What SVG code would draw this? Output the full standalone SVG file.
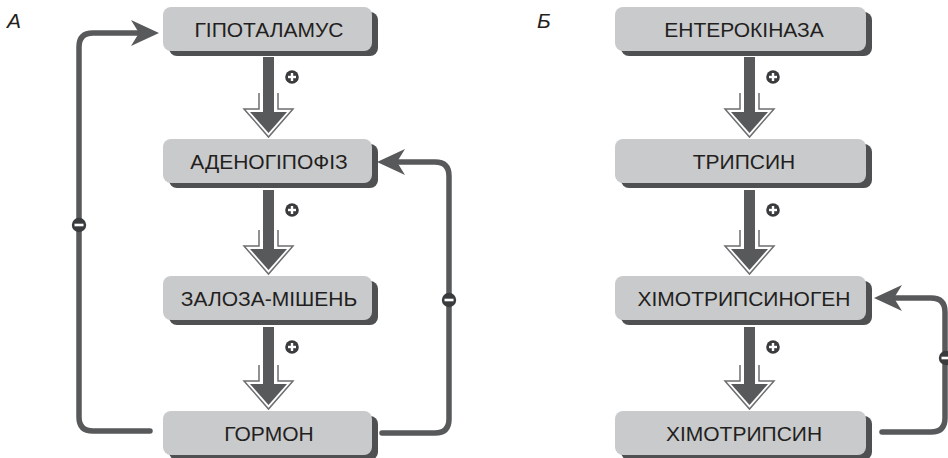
<svg xmlns="http://www.w3.org/2000/svg" width="948" height="458" viewBox="0 0 948 458">
<style>
.bx{fill:#c9cacc}
.sh{fill:#4f5052}
.tx{font-family:"Liberation Sans",Arial,sans-serif;font-size:21px;fill:#231f20;text-anchor:middle}
.lb{font-family:"Liberation Sans",Arial,sans-serif;font-size:21px;font-style:italic;fill:#231f20}
.fb{fill:none;stroke:#58595b;stroke-width:5.5;stroke-linecap:round;stroke-linejoin:round}
.ol{fill:#fff;stroke:#6d6e70;stroke-width:1.5}
.dk{fill:#58595b}
.sg{fill:#3a3b3d}
.bar{fill:#fff}
</style>
<defs>
<marker id="ah" markerUnits="userSpaceOnUse" viewBox="0 0 28 26" refX="8" refY="13" markerWidth="28" markerHeight="26" orient="auto">
<path d="M0,0 L28,13 L0,26 L8,13 Z" fill="#58595b"/>
</marker>
<g id="plus"><circle r="6.8" class="sg"/><rect x="-4" y="-1.2" width="8" height="2.4" class="bar"/><rect x="-1.2" y="-4" width="2.4" height="8" class="bar"/></g>
<g id="minus"><circle r="7.2" fill="#3a3b3d"/><circle r="5.3" fill="#fff" opacity="0"/><rect x="-4.5" y="-1.3" width="9" height="2.6" class="bar"/></g>
</defs>

<text class="lb" x="7" y="28">А</text>
<text class="lb" x="537" y="28">Б</text>

<g id="connectors">
<!-- A left feedback -->
<path class="fb" d="M150,431 L93,431 Q79,431 79,417 L79,47 Q79,33 93,33 L139,33" marker-end="url(#ah)"/>
<!-- A right feedback -->
<path class="fb" d="M382,433 L435,433 Q449,433 449,419 L449,176 Q449,162 435,162 L397,162" marker-end="url(#ah)"/>
<!-- B right feedback -->
<path class="fb" d="M882,432 L931,432 Q945,432 945,418 L945,312 Q945,298 931,298 L894,298" marker-end="url(#ah)"/>
<use href="#minus" x="79" y="225"/>
<use href="#minus" x="449" y="300"/>
<use href="#minus" x="946" y="358"/>

<!-- activation arrows A -->
<g id="arrA1">
<polyline class="ol" points="259,93 259,109 244,109 268.5,137 293,109 278,109 278,93"/>
<rect class="dk" x="263" y="57" width="11" height="56"/>
<polygon class="dk" points="250,112 268.5,133 287,112"/>
<use href="#plus" x="292" y="77"/>
</g>
<g id="arrA2">
<polyline class="ol" points="259,230 259,246 244,246 268.5,274 293,246 278,246 278,230"/>
<rect class="dk" x="263" y="190" width="11" height="60"/>
<polygon class="dk" points="250,249 268.5,270 287,249"/>
<use href="#plus" x="292" y="210"/>
</g>
<g id="arrA3">
<polyline class="ol" points="259,365 259,381 244,381 268.5,409 293,381 278,381 278,365"/>
<rect class="dk" x="263" y="327" width="11" height="58"/>
<polygon class="dk" points="250,384 268.5,405 287,384"/>
<use href="#plus" x="292" y="347"/>
</g>
<!-- activation arrows B -->
<g id="arrB1">
<polyline class="ol" points="740,93 740,109 725,109 749.5,137 774,109 759,109 759,93"/>
<rect class="dk" x="744" y="57" width="11" height="56"/>
<polygon class="dk" points="731,112 749.5,133 768,112"/>
<use href="#plus" x="773" y="77"/>
</g>
<g id="arrB2">
<polyline class="ol" points="740,230 740,246 725,246 749.5,274 774,246 759,246 759,230"/>
<rect class="dk" x="744" y="190" width="11" height="60"/>
<polygon class="dk" points="731,249 749.5,270 768,249"/>
<use href="#plus" x="773" y="210"/>
</g>
<g id="arrB3">
<polyline class="ol" points="740,365 740,381 725,381 749.5,409 774,381 759,381 759,365"/>
<rect class="dk" x="744" y="327" width="11" height="58"/>
<polygon class="dk" points="731,384 749.5,405 768,384"/>
<use href="#plus" x="773" y="347"/>
</g>
</g>

<!-- Panel A nodes -->
<g id="hypothalamus">
<rect class="sh" x="169" y="12" width="209" height="44" rx="8"/>
<rect class="bx" x="163" y="7" width="209" height="44" rx="8"/>
<text class="tx" x="269" y="37">ГІПОТАЛАМУС</text>
</g>
<g id="adenohypophysis">
<rect class="sh" x="169" y="144" width="209" height="44" rx="8"/>
<rect class="bx" x="163" y="139" width="209" height="44" rx="8"/>
<text class="tx" x="269" y="169">АДЕНОГІПОФІЗ</text>
</g>
<g id="target-gland">
<rect class="sh" x="169" y="281" width="209" height="44" rx="8"/>
<rect class="bx" x="163" y="276" width="209" height="44" rx="8"/>
<text class="tx" x="269" y="306">ЗАЛОЗА-МІШЕНЬ</text>
</g>
<g id="hormone">
<rect class="sh" x="169" y="416" width="209" height="44" rx="8"/>
<rect class="bx" x="163" y="411" width="209" height="44" rx="8"/>
<text class="tx" x="269" y="441">ГОРМОН</text>
</g>

<!-- Panel B nodes -->
<g id="enterokinase">
<rect class="sh" x="621" y="12" width="251" height="44" rx="8"/>
<rect class="bx" x="615" y="7" width="251" height="44" rx="8"/>
<text class="tx" x="744" y="37">ЕНТЕРОКІНАЗА</text>
</g>
<g id="trypsin">
<rect class="sh" x="621" y="144" width="251" height="44" rx="8"/>
<rect class="bx" x="615" y="139" width="251" height="44" rx="8"/>
<text class="tx" x="744" y="169">ТРИПСИН</text>
</g>
<g id="chymotrypsinogen">
<rect class="sh" x="621" y="281" width="251" height="44" rx="8"/>
<rect class="bx" x="615" y="276" width="251" height="44" rx="8"/>
<text class="tx" x="744" y="306">ХІМОТРИПСИНОГЕН</text>
</g>
<g id="chymotrypsin">
<rect class="sh" x="621" y="416" width="251" height="44" rx="8"/>
<rect class="bx" x="615" y="411" width="251" height="44" rx="8"/>
<text class="tx" x="744" y="441">ХІМОТРИПСИН</text>
</g>
</svg>
